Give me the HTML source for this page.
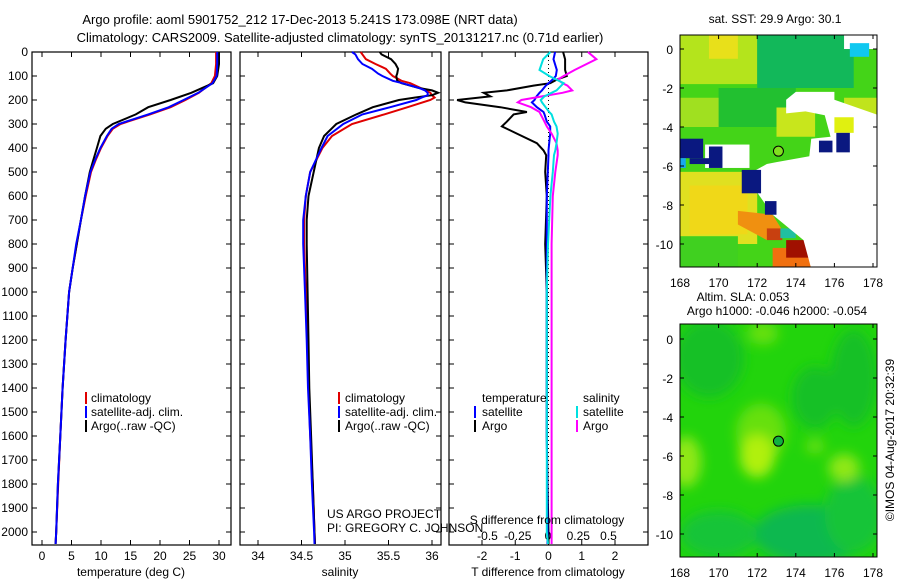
<!DOCTYPE html>
<html><head><meta charset="utf-8"><style>
html,body{margin:0;padding:0;background:#fff;}
svg{display:block;font-family:"Liberation Sans",sans-serif;}
text{font-size:12px;fill:#000;}
</style></head><body>
<svg id="fig" width="900" height="580" viewBox="0 0 900 580">
<g>
<text x="300" y="24" text-anchor="middle" style="font-size:13px">Argo profile: aoml 5901752_212 17-Dec-2013 5.241S 173.098E (NRT data)</text>
<text x="340" y="42" text-anchor="middle" style="font-size:13px">Climatology: CARS2009. Satellite-adjusted climatology: synTS_20131217.nc (0.71d earlier)</text>
</g>
<g id="maps"></g>
<g id="plots"></g>
<text transform="translate(894,440) rotate(-90)" text-anchor="middle">©IMOS 04-Aug-2017 20:32:39</text>
</svg>
<script>
// ---- data ----
const tDepth = [0,50,100,130,170,200,230,260,300,320,350,400,450,500,600,700,800,900,1000,1200,1400,1600,1800,2000,2050];
const tArgo = [30,30,29.7,29.0,25.3,21.8,18.0,15.9,12.0,10.8,9.9,9.3,8.7,8.1,7.3,6.6,5.9,5.2,4.6,4.0,3.5,3.1,2.7,2.4,2.3];
const tClim = [29.5,29.5,29.3,28.7,26.6,24.3,21.8,18.3,13.3,12.0,11.1,10.0,9.1,8.3,7.4,6.6,5.9,5.2,4.6,4.0,3.5,3.1,2.75,2.4,2.3];
const tSat = [29.7,29.7,29.6,28.9,26.5,24.0,21.5,18.0,13.0,11.8,11.0,9.9,9.0,8.2,7.3,6.6,5.8,5.2,4.6,4.0,3.5,3.1,2.7,2.4,2.3];
const sDepth = [0,10,30,50,70,90,100,120,130,150,160,170,180,190,200,230,260,300,350,400,500,600,700,800,1000,1200,1400,1600,1800,2000,2050];
const sArgo = [35.40,35.42,35.53,35.58,35.61,35.60,35.59,35.60,35.65,35.85,36.0,36.07,36.0,35.8,35.62,35.32,35.13,34.9,34.76,34.7,34.64,34.58,34.56,34.56,34.57,34.58,34.59,34.61,34.63,34.65,34.655];
const sClim = [35.18,35.2,35.24,35.35,35.47,35.52,35.55,35.65,35.75,35.87,35.93,35.98,36.0,36.03,35.98,35.72,35.45,35.08,34.85,34.74,34.6,34.55,34.53,34.53,34.55,34.57,34.58,34.6,34.63,34.65,34.655];
const sSat = [35.08,35.12,35.15,35.2,35.31,35.38,35.43,35.55,35.66,35.85,35.92,35.95,35.95,35.88,35.82,35.52,35.2,34.98,34.8,34.73,34.6,34.55,34.52,34.52,34.54,34.56,34.575,34.6,34.62,34.645,34.65];
const dDepth = [0,30,75,100,115,130,140,160,170,185,200,210,230,250,260,290,310,340,380,410,430,500,600,800,1000,1200,1400,1600,1800,2000,2050];
const dTArgo = [0.44,0.5,0.5,0.55,0.25,0.05,-0.45,-1.25,-1.95,-1.75,-2.75,-2.5,-1.45,-0.65,-1.05,-1.25,-1.4,-0.95,-0.35,-0.15,-0.07,-0.1,-0.05,-0.1,-0.05,-0.05,-0.05,-0.05,-0.03,0,0];
const dTSat = [0.2,0.15,0.25,0.22,0.12,0,-0.08,-0.2,-0.27,-0.36,-0.42,-0.5,-0.35,-0.15,-0.12,-0.05,0.05,0.05,0.02,0,0,-0.02,-0.05,-0.05,-0.05,-0.05,-0.05,-0.05,-0.04,-0.03,-0.03];
const dSArgo = [0.33,0.4,0.22,0.13,0.08,0.12,0.16,0.2,0.12,-0.05,-0.22,-0.25,-0.14,-0.07,-0.06,-0.03,-0.01,0.03,0.07,0.08,0.08,0.06,0.04,0.03,0.03,0.03,0.03,0.03,0.03,0.03,0.03];
const dSSat = [0.02,-0.04,-0.07,0.01,0.07,0.13,0.11,0.07,0.03,-0.03,-0.06,-0.05,-0.02,0.01,0.03,0.05,0.07,0.08,0.07,0.06,0.05,0.04,0.02,0,-0.01,-0.01,-0.01,-0.01,-0.01,-0.01,0];
const depthTicks = [0,100,200,300,400,500,600,700,800,900,1000,1100,1200,1300,1400,1500,1600,1700,1800,1900,2000];
const tempTicks = [0,5,10,15,20,25,30];
const salTicks = [34,34.5,35,35.5,36];
const salTickLabels = ["34","34.5","35","35.5","36"];
const dTTicks = [-2,-1,0,1,2];
const dSTicks = [-0.5,-0.25,0,0.25,0.5];
const dSTickLabels = ["-0.5","-0.25","0","0.25","0.5"];

const NS='http://www.w3.org/2000/svg';
function mk(tag, attrs, parent){const e=document.createElementNS(NS,tag);for(const k in attrs)e.setAttribute(k,attrs[k]);parent.appendChild(e);return e;}
const plots=document.getElementById('plots');
const Y0=52, Y1=545;
const yD = d => Y0 + d*0.24;
function xs(v0,p0,v1,p1){return v=>p0+(v-v0)*(p1-p0)/(v1-v0);}
const P=[{l:32,r:231},{l:240,r:441},{l:449,r:648}];
const xT = xs(0,42,30,219);
const xS = xs(34,258,36,432);
const xdT = xs(-2,482,2,615);
const xdS = xs(-0.5,487.5,0.5,608.5);

function frame(i,name){
  const p=P[i];
  const r=mk('rect',{x:p.l,y:Y0,width:p.r-p.l,height:Y1-Y0,fill:'none',stroke:'#000','stroke-width':1.2},plots);
  
  
  depthTicks.forEach(d=>{
    mk('line',{x1:p.l,x2:p.l+5,y1:yD(d),y2:yD(d),stroke:'#000'},plots);
    mk('line',{x1:p.r,x2:p.r-5,y1:yD(d),y2:yD(d),stroke:'#000'},plots);
  });
}
function xticks(ticks,labels,fx,ly){
  ticks.forEach((v,i)=>{
    const x=fx(v);
    mk('line',{x1:x,x2:x,y1:Y1,y2:Y1-5,stroke:'#000'},plots);
    mk('line',{x1:x,x2:x,y1:Y0,y2:Y0+5,stroke:'#000'},plots);
    const t=mk('text',{x:x,y:ly,'text-anchor':'middle'},plots);
    t.textContent=labels[i];
    
    
  });
}
function line(depths,vals,fx,color,name){
  const pts=depths.map((d,i)=>fx(vals[i]).toFixed(1)+','+yD(d).toFixed(1)).join(' ');
  const l=mk('polyline',{points:pts,fill:'none',stroke:color,'stroke-width':2},plots);
  
  
}
function txt(x,y,s,name,anchor){
  const t=mk('text',{x:x,y:y,'text-anchor':anchor||'start'},plots);
  t.textContent=s;
  
  
  return t;
}
function legBar(x,y,color){mk('rect',{x:x,y:y-10,width:2,height:12,fill:color},plots);}

frame(0,'temperature-panel');frame(1,'salinity-panel');frame(2,'difference-panel');
depthTicks.forEach(d=>{txt(28,yD(d)+4,String(d),'y-tick-label','end');});
xticks(tempTicks,tempTicks.map(String),xT,560);
xticks(salTicks,salTickLabels,xS,560);
xticks(dTTicks,dTTicks.map(String),xdT,560);
dSTicks.forEach((v,i)=>{txt(xdS(v),540,dSTickLabels[i],'s-diff-tick-label','middle');});

line(tDepth,tClim,xT,'#e00000','temp-climatology-line');
line(tDepth,tArgo,xT,'#000','temp-argo-line');
line(tDepth,tSat,xT,'#0000ff','temp-satellite-line');
line(sDepth,sClim,xS,'#e00000','sal-climatology-line');
line(sDepth,sArgo,xS,'#000','sal-argo-line');
line(sDepth,sSat,xS,'#0000ff','sal-satellite-line');
mk('line',{x1:xdT(0),x2:xdT(0),y1:Y0,y2:Y1,stroke:'#000','stroke-dasharray':'1,3'},plots);
line(dDepth,dTArgo,xdT,'#000','t-diff-argo-line');
line(dDepth,dTSat,xdT,'#0000ff','t-diff-satellite-line');
line(dDepth,dSArgo,xdS,'#ff00ff','s-diff-argo-line');
line(dDepth,dSSat,xdS,'#00e0e0','s-diff-satellite-line');

txt(131,576,'temperature (deg C)','x-axis-title-temperature','middle');
txt(340,576,'salinity','x-axis-title-salinity','middle');
txt(548,576,'T difference from climatology','x-axis-title-t-diff','middle');
txt(547,524,'S difference from climatology','s-diff-axis-title','middle');
txt(327,518,'US ARGO PROJECT','project-label');
txt(327,532,'PI: GREGORY C. JOHNSON','pi-label');

legBar(85,402,'#e00000');txt(91,402,'climatology','legend-climatology');
legBar(85,416,'#0000ff');txt(91,416,'satellite-adj. clim.','legend-satellite');
legBar(85,430,'#000');txt(91,430,'Argo(..raw -QC)','legend-argo');
legBar(338,402,'#e00000');txt(345,402,'climatology','legend-climatology');
legBar(338,416,'#0000ff');txt(345,416,'satellite-adj. clim.','legend-satellite');
legBar(338,430,'#000');txt(345,430,'Argo(..raw -QC)','legend-argo');
txt(482,402,'temperature','legend-temperature-header');
txt(583,402,'salinity','legend-salinity-header');
legBar(474,416,'#0000ff');txt(482,416,'satellite','legend-t-satellite');
legBar(474,430,'#000');txt(482,430,'Argo','legend-t-argo');
legBar(576,416,'#00e0e0');txt(583,416,'satellite','legend-s-satellite');
legBar(576,430,'#ff00ff');txt(583,430,'Argo','legend-s-argo');

// ---- maps ----
const maps=document.getElementById('maps');
const lonTicks=[168,170,172,174,176,178];
const latTicks=[0,-2,-4,-6,-8,-10];
function map(top,bottom,lat0y,name,draw){
  const g=mk('g',{},maps);
  
  
  const L=680,R=877;
  const fx=lon=>680+(lon-168)*19.3;
  const fy=lat=>lat0y-lat*19.5;
  const cid='c'+name;
  const c=mk('clipPath',{id:cid},g);mk('rect',{x:L,y:top,width:R-L,height:bottom-top},c);
  const inner=mk('g',{'clip-path':'url(#'+cid+')'},g);
  draw(inner,fx,fy);
  mk('rect',{x:L,y:top,width:R-L,height:bottom-top,fill:'none',stroke:'#000'},g);
  lonTicks.forEach(v=>{const x=fx(v);mk('line',{x1:x,x2:x,y1:bottom,y2:bottom-4,stroke:'#000'},g);mk('line',{x1:x,x2:x,y1:top,y2:top+4,stroke:'#000'},g);
    const t=mk('text',{x:x,y:bottom+20,'text-anchor':'middle'},g);t.textContent=String(v);});
  latTicks.forEach(v=>{const y=fy(v);mk('line',{x1:L,x2:L+4,y1:y,y2:y,stroke:'#000'},g);mk('line',{x1:R,x2:R-4,y1:y,y2:y,stroke:'#000'},g);
    const t=mk('text',{x:L-7,y:y+5,'text-anchor':'end'},g);t.textContent=String(v);});
  const cc=mk('circle',{cx:fx(173.1),cy:fy(-5.24),r:5,stroke:'#000','stroke-width':1,fill:'none'},g);
  return {g,fx,fy,cc};
}
function R(g,fx,fy,lo0,lo1,la0,la1,col){mk('rect',{x:fx(lo0),y:fy(la0),width:fx(lo1)-fx(lo0),height:fy(la1)-fy(la0),fill:col},g);}
function poly(g,fx,fy,pts,col){mk('polygon',{points:pts.map(p=>fx(p[0])+','+fy(p[1])).join(' '),fill:col},g);}

const m1=map(35,267,49,'sst-map',(g,fx,fy)=>{
  R(g,fx,fy,168,179,1,-12,'#44d418');
  R(g,fx,fy,168,172,1,-1.8,'#b4e41c');
  R(g,fx,fy,169.5,171,1,-0.5,'#e8e01a');
  R(g,fx,fy,172,177,1,-2,'#12b85a');
  R(g,fx,fy,170,174,-2,-4,'#22c030');
  R(g,fx,fy,168,170,-2.5,-4,'#a0e020');
  R(g,fx,fy,173,175,-3,-4.5,'#c8e61c');
  R(g,fx,fy,176.5,178.2,-2.5,-3.5,'#c0e41c');
  R(g,fx,fy,168,172,-6.3,-10,'#e0e020');
  R(g,fx,fy,168.5,171.5,-7,-9.5,'#f0d818');
  R(g,fx,fy,168,171,-9.6,-12,'#40d020');
  poly(g,fx,fy,[[171,-8.3],[172.8,-8.5],[173.5,-9.6],[172.5,-9.8],[171,-9]],'#f09010');
  R(g,fx,fy,172.5,173.3,-9.2,-9.8,'#c84010');
  R(g,fx,fy,172.8,175.1,-10.2,-11.2,'#f07010');
  R(g,fx,fy,173.5,174.8,-9.8,-10.7,'#a01000');
  R(g,fx,fy,173.2,174,-9.2,-9.7,'#20c0a0');
  R(g,fx,fy,176.5,179,1,0,'#ffffff');
  R(g,fx,fy,176.8,177.8,0.3,-0.4,'#10c8f0');
  poly(g,fx,fy,[[174,-2.2],[176,-2.2],[176,-2.6],[178.3,-3.4],[178.3,-12],[175,-12],[174.4,-9.8],[172.8,-8.5],[171.4,-6.5],[172.5,-5.9],[173,-5.8],[174.7,-5.5],[174.8,-4.6],[175.8,-4.5],[175.5,-3.4],[174.5,-3.2],[173.5,-3.3],[173.5,-2.6]],'#ffffff');
  R(g,fx,fy,169.3,171.6,-4.9,-6.1,'#ffffff');
  R(g,fx,fy,176,177,-3.5,-4.3,'#e0f010');
  R(g,fx,fy,168,169.2,-4.6,-5.6,'#0a1880');
  R(g,fx,fy,168.5,169.8,-5.6,-5.9,'#0a1880');
  R(g,fx,fy,169.5,170.2,-5,-6.1,'#0a1880');
  R(g,fx,fy,171.2,172.2,-6.2,-7.4,'#0a1880');
  R(g,fx,fy,172.4,173,-7.8,-8.5,'#0a1880');
  R(g,fx,fy,175.2,175.9,-4.7,-5.3,'#0a1880');
  R(g,fx,fy,176.1,176.8,-4.3,-5.3,'#0a1880');
  R(g,fx,fy,168,168.3,-5.6,-6.1,'#18a8f0');
});
m1.cc.setAttribute('fill','#80e020');
const t1=mk('text',{x:775,y:23,'text-anchor':'middle'},maps);t1.textContent='sat. SST: 29.9 Argo: 30.1';



const m2=map(324,557,339,'sla-map',(g,fx,fy)=>{
  R(g,fx,fy,168,179,1,-12,'#22d40c');
  const f=mk('filter',{id:'bl'},g);mk('feGaussianBlur',{stdDeviation:6},f);
  const b=mk('g',{filter:'url(#bl)'},g);
  const E=(lo,la,rx,ry,col)=>mk('ellipse',{cx:fx(lo),cy:fy(la),rx:rx*19.3,ry:ry*19.5,fill:col},b);
  E(169.5,-1,1.8,2,'#14c028');E(175,-3,1.2,1.6,'#14c028');E(177,-2,1.2,2.5,'#14c028');
  E(174.8,-10,3,1.5,'#10b850');E(170,-10,2,1.2,'#14c438');E(177,-9,1.5,2,'#14c438');
  E(172.2,-4.8,1.3,1.5,'#66e010');E(172,-6,0.9,1.1,'#b0f010');E(168.3,-6.3,0.8,1.3,'#90e818');
  E(176.5,-6.6,0.8,0.7,'#90e818');E(172.3,0.3,0.8,0.6,'#66e010');E(175,-5.5,0.5,0.4,'#66e010');
});
m2.cc.setAttribute('fill','#10b040');
const t2=mk('text',{x:743,y:301,'text-anchor':'middle'},maps);t2.textContent='Altim. SLA: 0.053';


const t3=mk('text',{x:777,y:315,'text-anchor':'middle'},maps);t3.textContent='Argo h1000: -0.046 h2000: -0.054';


</script>
</body></html>
